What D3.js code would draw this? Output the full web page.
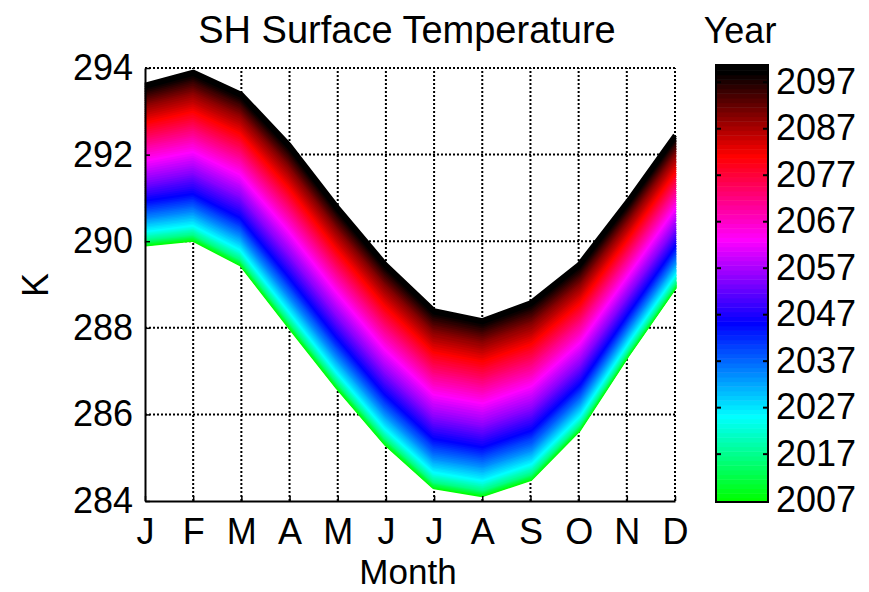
<!DOCTYPE html>
<html>
<head>
<meta charset="utf-8">
<script src="https://cdn.jsdelivr.net/npm/d3@7"></script>
<style>
  body { margin: 0; background: #fff; }
  text { font-family: "Liberation Sans", Arial, sans-serif; fill: #000; }
</style>
</head>
<body>
<svg id="chart" width="869" height="592"></svg>
<script>
// months on the x axis, years as lines (2007..2100)
var monthLabels = ["J", "F", "M", "A", "M", "J", "J", "A", "S", "O", "N", "D"];
var kTicks = [284, 286, 288, 290, 292, 294];
var yearTicks = [2007, 2017, 2027, 2037, 2047, 2057, 2067, 2077, 2087, 2097];
var firstYear = 2007, lastYear = 2100;

// colour map stops (year -> colour)
var cmapYears = [2007, 2025, 2045, 2063, 2081, 2099];
var cmapColors = ["#00ff00", "#00ffff", "#0000ff", "#ff00ff", "#ff0000", "#000000"];

// monthly mean temperature (K), one value per year 2007..2100
var tJan = [289.93,289.94,289.96,289.97,289.99,290.00,290.02,290.03,290.05,290.06,290.08,
  290.10,290.12,290.15,290.17,290.19,290.22,290.24,290.26,
  290.29,290.33,290.36,290.39,290.43,290.46,290.49,290.53,290.56,290.59,
  290.63,290.67,290.70,290.74,290.77,290.81,290.85,290.89,290.92,290.96,
  291.01,291.06,291.10,291.15,291.20,291.25,291.29,291.34,291.39,291.44,
  291.50,291.55,291.61,291.66,291.72,291.77,291.83,291.88,
  291.93,291.98,292.03,292.08,292.13,292.18,292.23,292.27,292.32,292.37,292.42,292.47,292.52,292.57,292.62,292.67,292.72,292.76,292.81,292.86,292.91,292.96,293.01,293.06,293.11,293.16,293.21,
  293.25,293.29,293.33,293.37,293.41,293.45,293.49,293.53,293.57,293.61];
var tFeb = [290.04,290.06,290.07,290.09,290.10,290.12,290.14,290.15,290.17,290.18,290.20,
  290.22,290.25,290.27,290.30,290.32,290.34,290.37,290.39,
  290.43,290.46,290.50,290.53,290.57,290.60,290.64,290.67,290.71,290.74,
  290.78,290.82,290.85,290.89,290.93,290.97,291.01,291.04,291.08,291.12,
  291.17,291.22,291.27,291.32,291.38,291.43,291.48,291.53,291.58,291.63,
  291.69,291.75,291.80,291.86,291.92,291.98,292.03,292.09,
  292.14,292.19,292.24,292.30,292.35,292.40,292.45,292.50,292.55,292.61,292.66,292.71,292.76,292.81,292.86,292.91,292.97,293.02,293.07,293.12,293.17,293.22,293.27,293.33,293.38,293.43,293.48,
  293.52,293.57,293.61,293.65,293.70,293.74,293.78,293.82,293.87,293.91];
var tMar = [289.46,289.48,289.49,289.51,289.52,289.54,289.56,289.57,289.59,289.60,289.62,
  289.65,289.67,289.70,289.72,289.75,289.77,289.80,289.82,
  289.86,289.89,289.93,289.96,290.00,290.03,290.07,290.10,290.14,290.17,
  290.21,290.25,290.29,290.33,290.37,290.40,290.44,290.48,290.52,290.56,
  290.61,290.66,290.72,290.77,290.82,290.87,290.92,290.98,291.03,291.08,
  291.14,291.20,291.26,291.32,291.37,291.43,291.49,291.55,
  291.60,291.66,291.71,291.76,291.81,291.87,291.92,291.97,292.02,292.08,292.13,292.18,292.23,292.29,292.34,292.39,292.44,292.50,292.55,292.60,292.65,292.71,292.76,292.81,292.87,292.92,292.97,
  293.01,293.06,293.10,293.14,293.19,293.23,293.27,293.31,293.36,293.40];
var tApr = [288.03,288.05,288.06,288.08,288.10,288.12,288.13,288.15,288.17,288.18,288.20,
  288.23,288.25,288.28,288.31,288.33,288.36,288.38,288.41,
  288.45,288.48,288.52,288.56,288.60,288.63,288.67,288.71,288.74,288.78,
  288.82,288.86,288.91,288.95,288.99,289.03,289.07,289.12,289.16,289.20,
  289.26,289.31,289.37,289.42,289.48,289.53,289.59,289.64,289.70,289.75,
  289.81,289.88,289.94,290.00,290.06,290.13,290.19,290.25,
  290.31,290.36,290.42,290.47,290.53,290.59,290.64,290.70,290.75,290.81,290.87,290.92,290.98,291.03,291.09,291.14,291.20,291.26,291.31,291.37,291.42,291.48,291.54,291.59,291.65,291.70,291.76,
  291.81,291.85,291.90,291.94,291.99,292.04,292.08,292.13,292.17,292.22];
var tMay = [286.62,286.64,286.65,286.67,286.69,286.71,286.72,286.74,286.76,286.77,286.79,
  286.82,286.84,286.87,286.89,286.92,286.94,286.97,286.99,
  287.03,287.07,287.10,287.14,287.18,287.22,287.26,287.29,287.33,287.37,
  287.41,287.45,287.50,287.54,287.58,287.62,287.66,287.71,287.75,287.79,
  287.84,287.90,287.95,288.01,288.06,288.11,288.17,288.22,288.28,288.33,
  288.39,288.46,288.52,288.58,288.64,288.71,288.77,288.83,
  288.89,288.94,289.00,289.05,289.11,289.16,289.22,289.27,289.33,289.38,289.44,289.49,289.55,289.60,289.66,289.71,289.77,289.82,289.88,289.93,289.99,290.04,290.10,290.16,290.21,290.27,290.32,
  290.37,290.41,290.46,290.50,290.55,290.60,290.64,290.69,290.73,290.78];
var tJun = [285.32,285.34,285.35,285.37,285.39,285.41,285.42,285.44,285.46,285.47,285.49,
  285.52,285.54,285.57,285.59,285.62,285.64,285.67,285.69,
  285.73,285.77,285.80,285.84,285.88,285.92,285.96,285.99,286.03,286.07,
  286.11,286.15,286.19,286.23,286.28,286.32,286.36,286.40,286.44,286.48,
  286.53,286.59,286.64,286.70,286.75,286.80,286.86,286.91,286.97,287.02,
  287.08,287.14,287.20,287.26,287.33,287.39,287.45,287.51,
  287.57,287.62,287.68,287.73,287.79,287.84,287.90,287.95,288.01,288.07,288.12,288.18,288.23,288.29,288.34,288.40,288.45,288.51,288.57,288.62,288.68,288.73,288.79,288.84,288.90,288.95,289.01,
  289.06,289.10,289.15,289.19,289.24,289.28,289.33,289.37,289.42,289.46];
var tJul = [284.32,284.34,284.35,284.37,284.38,284.40,284.42,284.43,284.45,284.46,284.48,
  284.51,284.53,284.56,284.59,284.61,284.64,284.66,284.69,
  284.73,284.76,284.80,284.83,284.87,284.91,284.94,284.98,285.01,285.05,
  285.09,285.13,285.17,285.21,285.26,285.30,285.34,285.38,285.42,285.46,
  285.51,285.57,285.62,285.67,285.73,285.78,285.83,285.88,285.94,285.99,
  286.05,286.11,286.17,286.23,286.30,286.36,286.42,286.48,
  286.53,286.59,286.64,286.70,286.75,286.81,286.86,286.92,286.97,287.02,287.08,287.13,287.19,287.24,287.30,287.35,287.41,287.46,287.51,287.57,287.62,287.68,287.73,287.79,287.84,287.90,287.95,
  288.00,288.04,288.09,288.13,288.18,288.22,288.27,288.31,288.36,288.40];
var tAug = [284.14,284.16,284.17,284.19,284.20,284.22,284.24,284.25,284.27,284.28,284.30,
  284.33,284.35,284.38,284.40,284.43,284.45,284.48,284.50,
  284.54,284.57,284.61,284.65,284.69,284.72,284.76,284.80,284.83,284.87,
  284.91,284.95,284.99,285.03,285.07,285.11,285.15,285.19,285.23,285.27,
  285.32,285.37,285.43,285.48,285.53,285.58,285.63,285.69,285.74,285.79,
  285.85,285.91,285.97,286.04,286.10,286.16,286.22,286.28,
  286.33,286.39,286.44,286.50,286.55,286.60,286.66,286.71,286.76,286.82,286.87,286.92,286.98,287.03,287.09,287.14,287.19,287.25,287.30,287.35,287.41,287.46,287.52,287.57,287.62,287.68,287.73,
  287.77,287.82,287.86,287.91,287.95,287.99,288.04,288.08,288.13,288.17];
var tSep = [284.51,284.53,284.54,284.56,284.57,284.59,284.61,284.62,284.64,284.65,284.67,
  284.70,284.72,284.75,284.78,284.80,284.83,284.85,284.88,
  284.92,284.95,284.99,285.02,285.06,285.10,285.13,285.17,285.20,285.24,
  285.28,285.32,285.36,285.40,285.45,285.49,285.53,285.57,285.61,285.65,
  285.70,285.76,285.81,285.86,285.92,285.97,286.02,286.07,286.13,286.18,
  286.24,286.30,286.36,286.42,286.49,286.55,286.61,286.67,
  286.72,286.78,286.83,286.89,286.94,286.99,287.05,287.10,287.16,287.21,287.27,287.32,287.37,287.43,287.48,287.54,287.59,287.64,287.70,287.75,287.81,287.86,287.91,287.97,288.02,288.08,288.13,
  288.18,288.22,288.27,288.31,288.36,288.40,288.45,288.49,288.54,288.58];
var tOct = [285.64,285.66,285.67,285.69,285.70,285.72,285.73,285.75,285.76,285.78,285.79,
  285.81,285.84,285.86,285.89,285.91,285.93,285.96,285.98,
  286.02,286.05,286.09,286.12,286.16,286.19,286.23,286.26,286.30,286.33,
  286.37,286.41,286.44,286.48,286.52,286.56,286.60,286.63,286.67,286.71,
  286.76,286.81,286.86,286.91,286.96,287.01,287.06,287.11,287.16,287.21,
  287.27,287.33,287.38,287.44,287.50,287.56,287.61,287.67,
  287.72,287.77,287.82,287.87,287.92,287.97,288.03,288.08,288.13,288.18,288.23,288.28,288.33,288.38,288.43,288.48,288.53,288.58,288.63,288.69,288.74,288.79,288.84,288.89,288.94,288.99,289.04,
  289.08,289.12,289.17,289.21,289.25,289.29,289.33,289.38,289.42,289.46];
var tNov = [287.35,287.36,287.38,287.39,287.41,287.42,287.43,287.45,287.46,287.48,287.49,
  287.51,287.54,287.56,287.58,287.60,287.63,287.65,287.67,
  287.70,287.73,287.77,287.80,287.83,287.86,287.89,287.93,287.96,287.99,
  288.03,288.06,288.10,288.13,288.17,288.20,288.24,288.27,288.31,288.34,
  288.39,288.43,288.48,288.53,288.58,288.62,288.67,288.72,288.76,288.81,
  288.86,288.92,288.97,289.02,289.07,289.13,289.18,289.23,
  289.28,289.32,289.37,289.42,289.47,289.51,289.56,289.61,289.66,289.70,289.75,289.80,289.85,289.89,289.94,289.99,290.04,290.08,290.13,290.18,290.23,290.27,290.32,290.37,290.42,290.46,290.51,
  290.55,290.59,290.63,290.67,290.71,290.74,290.78,290.82,290.86,290.90];
var tDec = [288.95,288.96,288.98,288.99,289.01,289.02,289.03,289.05,289.06,289.08,289.09,
  289.11,289.14,289.16,289.18,289.20,289.23,289.25,289.27,
  289.30,289.33,289.36,289.39,289.43,289.46,289.49,289.52,289.55,289.58,
  289.62,289.65,289.69,289.72,289.76,289.79,289.83,289.86,289.90,289.93,
  289.98,290.02,290.07,290.11,290.16,290.21,290.25,290.30,290.34,290.39,
  290.44,290.50,290.55,290.60,290.65,290.71,290.76,290.81,
  290.86,290.90,290.95,291.00,291.04,291.09,291.14,291.18,291.23,291.28,291.32,291.37,291.42,291.46,291.51,291.56,291.60,291.65,291.70,291.74,291.79,291.84,291.88,291.93,291.98,292.02,292.07,
  292.11,292.15,292.18,292.22,292.26,292.30,292.34,292.37,292.41,292.45];

var monthly = [tJan, tFeb, tMar, tApr, tMay, tJun, tJul, tAug, tSep, tOct, tNov, tDec];
var years = d3.range(firstYear, lastYear + 1);
var series = years.map(function(yr, i) {
  return { year: yr, values: monthly.map(function(m) { return m[i]; }) };
});

var svg = d3.select("#chart");
var x = d3.scaleLinear().domain([0, 11]).range([145, 675]);
var y = d3.scaleLinear().domain([284, 294]).range([501, 68]);
var color = d3.scaleLinear().domain(cmapYears).range(cmapColors).clamp(true);

// dotted grid
var grid = svg.append("g").attr("stroke", "#000").attr("stroke-width", 2).attr("stroke-dasharray", "2,2");
grid.selectAll(".gx").data(d3.range(1, 12)).enter().append("line")
  .attr("x1", function(d) { return x(d); }).attr("x2", function(d) { return x(d); })
  .attr("y1", y(284)).attr("y2", y(294));
grid.selectAll(".gy").data(kTicks.slice(1)).enter().append("line")
  .attr("x1", x(0)).attr("x2", x(11))
  .attr("y1", function(d) { return y(d); }).attr("y2", function(d) { return y(d); });

// one line per year, later years on top
var line = d3.line().x(function(d, i) { return x(i); }).y(function(d) { return y(d); });
svg.append("g").selectAll("path").data(series).enter().append("path")
  .attr("d", function(d) { return line(d.values); })
  .attr("fill", "none")
  .attr("stroke", function(d) { return color(d.year); })
  .attr("stroke-width", 4.5)
  .attr("stroke-linejoin", "round");

// axes
var xAxis = d3.axisBottom(x).tickValues(d3.range(12))
  .tickFormat(function(i) { return monthLabels[i]; })
  .tickSizeInner(-5).tickSizeOuter(0).tickPadding(17);
var gx = svg.append("g").attr("transform", "translate(0," + y(284) + ")").call(xAxis);
var yAxis = d3.axisLeft(y).tickValues(kTicks).tickFormat(d3.format("d"))
  .tickSizeInner(-5).tickSizeOuter(0).tickPadding(12);
var gy = svg.append("g").attr("transform", "translate(" + x(0) + ",0)").call(yAxis);
[gx, gy].forEach(function(g) {
  g.select(".domain").attr("stroke", "#000").attr("stroke-width", 2);
  g.selectAll(".tick line").attr("stroke", "#000").attr("stroke-width", 1.5);
  g.selectAll("text").attr("font-size", 36).attr("font-family", "Liberation Sans, Arial, sans-serif");
});

svg.append("text").attr("x", 407).attr("y", 43).attr("text-anchor", "middle")
  .attr("font-size", 38).text("SH Surface Temperature");
svg.append("text").attr("x", 408).attr("y", 584).attr("text-anchor", "middle")
  .attr("font-size", 35).text("Month");
svg.append("text").attr("transform", "translate(48,285) rotate(-90)").attr("text-anchor", "middle")
  .attr("font-size", 36).text("K");

// colour bar
var cbX = 716, cbW = 52;
var yc = d3.scaleLinear().domain([2006.6, 2100.6]).range([502, 65]);
var cb = svg.append("g");
cb.selectAll("rect").data(years).enter().append("rect")
  .attr("x", cbX).attr("width", cbW)
  .attr("y", function(d) { return yc(Math.min(d + 0.5, 2100.6)); })
  .attr("height", function(d) { return yc(Math.max(d - 0.5, 2006.6)) - yc(Math.min(d + 0.5, 2100.6)) + 0.5; })
  .attr("fill", function(d) { return color(d); });
cb.append("rect").attr("x", cbX).attr("y", yc(2100.6)).attr("width", cbW)
  .attr("height", yc(2006.6) - yc(2100.6))
  .attr("fill", "none").attr("stroke", "#000").attr("stroke-width", 2);
var cbAxisR = d3.axisRight(yc).tickValues(yearTicks).tickFormat(d3.format("d"))
  .tickSizeInner(-5).tickSizeOuter(0).tickPadding(8);
var gcr = cb.append("g").attr("transform", "translate(" + (cbX + cbW) + ",0)").call(cbAxisR);
var cbAxisL = d3.axisLeft(yc).tickValues(yearTicks.slice(1)).tickFormat("")
  .tickSizeInner(-5).tickSizeOuter(0);
var gcl = cb.append("g").attr("transform", "translate(" + cbX + ",0)").call(cbAxisL);
[gcr, gcl].forEach(function(g) {
  g.select(".domain").remove();
  g.selectAll(".tick line").attr("stroke", "#000").attr("stroke-width", 2);
  g.selectAll("text").attr("font-size", 36).attr("font-family", "Liberation Sans, Arial, sans-serif");
});
gcr.selectAll(".tick").filter(function(d) { return d === 2007; }).select("line").remove();
svg.append("text").attr("x", 740).attr("y", 43).attr("text-anchor", "middle")
  .attr("font-size", 36).text("Year");
</script>
</body>
</html>
